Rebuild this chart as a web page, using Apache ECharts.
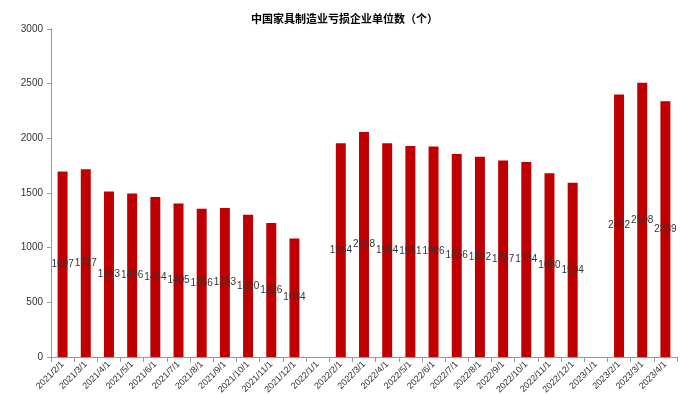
<!DOCTYPE html>
<html>
<head>
<meta charset="utf-8">
<script src="https://cdn.jsdelivr.net/npm/echarts@6/dist/echarts.min.js"></script>
<style>
  html, body { margin: 0; padding: 0; background: #fff; }
  #chart { width: 689px; height: 394px; }
</style>
</head>
<body>
<div id="chart"></div>
<script>
// 月份
const categories = [
  '2021/2/1', '2021/3/1', '2021/4/1', '2021/5/1', '2021/6/1', '2021/7/1',
  '2021/8/1', '2021/9/1', '2021/10/1', '2021/11/1', '2021/12/1', '2022/1/1',
  '2022/2/1', '2022/3/1', '2022/4/1', '2022/5/1', '2022/6/1', '2022/7/1',
  '2022/8/1', '2022/9/1', '2022/10/1', '2022/11/1', '2022/12/1', '2023/1/1',
  '2023/2/1', '2023/3/1', '2023/4/1'
]
// 亏损企业单位数（1月无数据）
const lossCount = [
  1697, 1717, 1513, 1496, 1464, 1405, 1356, 1363, 1300, 1226, 1084, null,
  1954, 2058, 1954, 1931, 1926, 1856, 1832, 1797, 1784, 1680, 1594, null,
  2402, 2508, 2339
]

const chart = echarts.init(document.getElementById('chart'))
chart.setOption({
  animation: false,
  title: {
    text: '中国家具制造业亏损企业单位数（个）',
    left: 'center',
    top: 8,
    textStyle: {
      fontFamily: 'Noto Sans CJK SC',
      fontSize: 11,
      fontWeight: 'bold',
      color: '#000'
    }
  },
  grid: {
    left: 51,
    right: 12,
    top: 29,
    bottom: 37,
    containLabel: false,
    outerBoundsMode: 'none'
  },
  xAxis: {
    type: 'category',
    data: categories,
    axisLine: { lineStyle: { color: '#999' } },
    axisTick: { show: true, alignWithLabel: false, lineStyle: { color: '#999' } },
    axisLabel: {
      interval: 0,
      rotate: 45,
      fontFamily: 'Liberation Sans',
      fontSize: 9,
      color: '#333',
      margin: 6
    }
  },
  yAxis: {
    type: 'value',
    min: 0,
    max: 3000,
    interval: 500,
    axisLine: { show: true, lineStyle: { color: '#999' } },
    axisTick: { show: true, inside: false, length: 4, lineStyle: { color: '#999' } },
    splitLine: { show: false },
    axisLabel: {
      fontFamily: 'Liberation Sans',
      fontSize: 10,
      color: '#333',
      margin: 8,
      formatter: (v) => String(v)
    }
  },
  series: [
    {
      type: 'bar',
      data: lossCount,
      barWidth: '43%',
      itemStyle: { color: '#c00000' },
      label: {
        show: true,
        position: 'inside',
        color: '#333',
        fontFamily: 'Liberation Sans',
        fontSize: 10
      }
    }
  ]
})
</script>
</body>
</html>
